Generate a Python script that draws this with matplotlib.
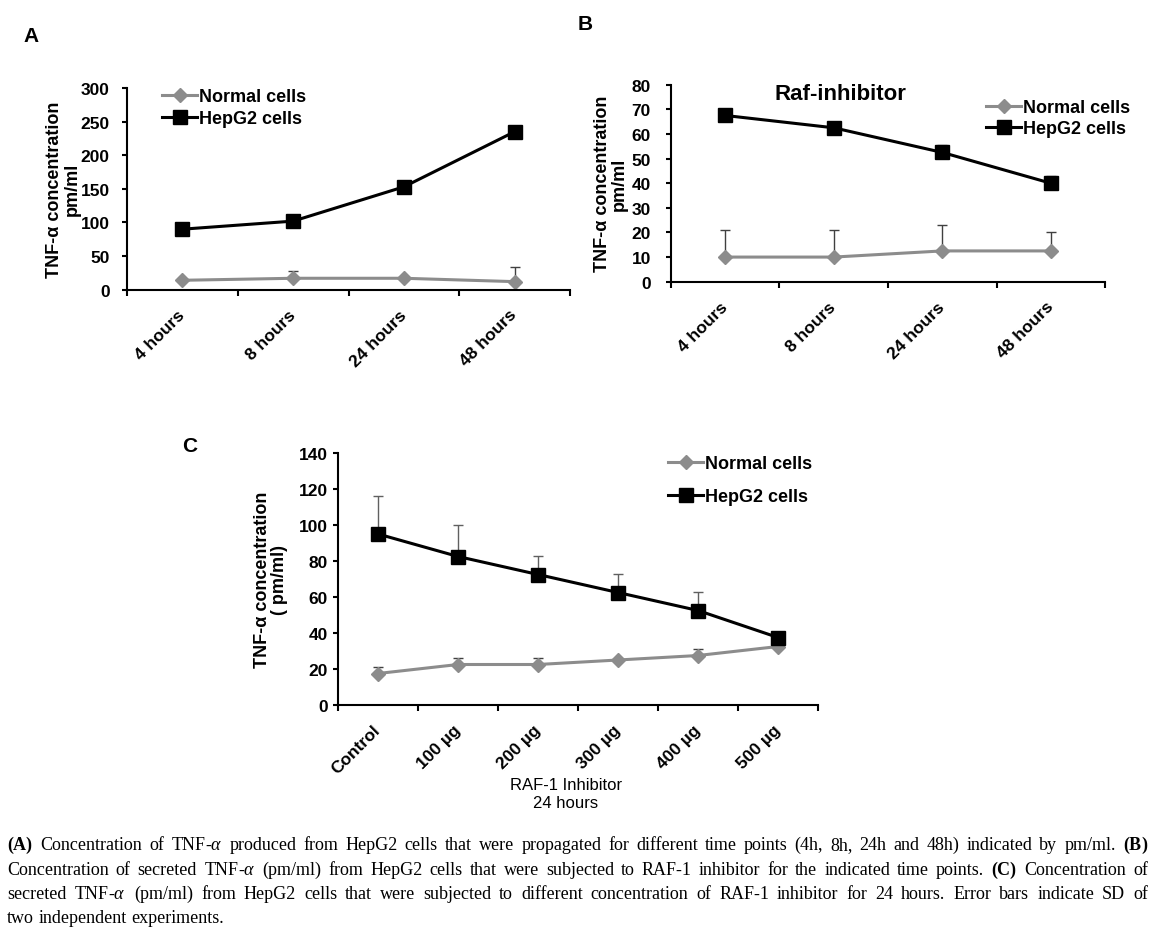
import matplotlib
matplotlib.use("Agg")
import matplotlib.pyplot as plt
import numpy as np

plt.rcParams['font.family'] = ['Liberation Sans', 'DejaVu Sans']
plt.rcParams['mathtext.fontset'] = 'custom'
plt.rcParams['mathtext.rm'] = 'Liberation Serif'
plt.rcParams['mathtext.it'] = 'Liberation Serif:italic'
plt.rcParams['mathtext.bf'] = 'Liberation Serif:bold'

# ---- data ----
hours = ['4 hours', '8 hours', '24 hours', '48 hours']
doses = ['Control', '100 µg', '200 µg', '300 µg', '400 µg', '500 µg']

a_normal = [14, 17, 17, 12]
a_normal_err = [1, 11, 1, 22]
a_hepg2 = [90, 102, 153, 235]
a_hepg2_err = [3, 3, 3, 3]

b_normal = [10, 10, 12.5, 12.5]
b_normal_err = [11, 11, 10.5, 7.5]
b_hepg2 = [67.5, 62.5, 52.5, 40]
b_hepg2_err = [1, 1, 3, 3]

c_normal = [17.5, 22.5, 22.5, 25, 27.5, 32.5]
c_normal_err = [3.5, 3.5, 3.5, 0, 3.5, 0]
c_hepg2 = [95, 82.5, 72.5, 62.5, 52.5, 37.5]
c_hepg2_err = [21, 17.5, 10.5, 10.5, 10.5, 1.5]

caption = [
    r"$\mathbf{(A)}$ Concentration of TNF-$\alpha$ produced from HepG2 cells that were propagated for different time points (4h, 8h, 24h and 48h) indicated by pm/ml. $\mathbf{(B)}$",
    r"Concentration of secreted TNF-$\alpha$ (pm/ml) from HepG2 cells that were subjected to RAF-1 inhibitor for the indicated time points. $\mathbf{(C)}$ Concentration of",
    r"secreted TNF-$\alpha$ (pm/ml) from HepG2 cells that were subjected to different concentration of RAF-1 inhibitor for 24 hours. Error bars indicate SD of",
    r"two independent experiments.",
]

GRAY = '#8c8c8c'
W, H = 1164, 937
fig = plt.figure(figsize=(W / 100, H / 100), dpi=100)


def px_axes(l, t, r, b):
    return fig.add_axes([l / W, 1 - b / H, (r - l) / W, (b - t) / H])


def panel(ax, cats, normal, nerr, hep, herr, ymax, ystep, ylabel, ypad):
    x = np.arange(len(cats))
    ax.errorbar(x, normal, yerr=[np.zeros(len(x)), nerr], fmt='none',
                ecolor='#404040', elinewidth=1, capsize=3.5, capthick=1, zorder=1)
    ax.errorbar(x, hep, yerr=[np.zeros(len(x)), herr], fmt='none',
                ecolor='#606060', elinewidth=1, capsize=3.5, capthick=1, zorder=1)
    ax.plot(x, normal, color=GRAY, lw=2.2, marker='D', ms=7, label='Normal cells', zorder=2)
    ax.plot(x, hep, color='black', lw=2.2, marker='s', ms=9.5, label='HepG2 cells', zorder=3)

    ax.set_xlim(-0.5, len(cats) - 0.5)
    ax.set_ylim(0, ymax)
    ax.set_yticks(np.arange(0, ymax + 1, ystep))
    ax.set_xticks(x)
    ax.set_xticklabels(cats, rotation=45, ha='right', va='center',
                       rotation_mode='anchor', fontsize=12.5, fontweight='bold')
    ax.set_xticks(np.arange(-0.5, len(cats)), minor=True)
    ax.tick_params(axis='x', which='major', length=0, pad=16)
    ax.tick_params(axis='x', which='minor', length=4, width=1.5, direction='out')
    ax.tick_params(axis='y', length=3.5, width=1.5, labelsize=12.5, pad=ypad)
    for lab in ax.get_yticklabels():
        lab.set_fontweight('bold')
    for s in ['top', 'right']:
        ax.spines[s].set_visible(False)
    for s in ['left', 'bottom']:
        ax.spines[s].set_linewidth(1.5)
    ax.set_ylabel(ylabel, fontsize=13, fontweight='bold', linespacing=1.0)


def add_legend(ax, x_px, top_px, spacing):
    ax.legend(loc='upper left', bbox_to_anchor=(x_px / W, 1 - top_px / H),
              bbox_transform=fig.transFigure, frameon=False, borderpad=0,
              borderaxespad=0, handlelength=1.95, handletextpad=0.1,
              labelspacing=spacing, prop={'size': 13, 'weight': 'bold'})


# ---- A ----
axA = px_axes(127, 89, 570, 290.7)
panel(axA, hours, a_normal, a_normal_err, a_hepg2, a_hepg2_err, 300, 50,
      'TNF-α concentration\npm/ml', 9)
axA.yaxis.set_label_coords(-0.105, 0.5)
add_legend(axA, 162, 89, 0.3)

# ---- B ----
axB = px_axes(671, 85.7, 1105, 282.7)
panel(axB, hours, b_normal, b_normal_err, b_hepg2, b_hepg2_err, 80, 10,
      'TNF-α concentration\npm/ml', 11)
axB.yaxis.set_label_coords(-0.099, 0.5)
add_legend(axB, 986, 100, 0.24)
fig.text(840 / W, 1 - 95 / H, 'Raf-inhibitor', fontsize=16, fontweight='bold',
         ha='center', va='center')

# ---- C ----
axC = px_axes(338, 454, 818, 706)
panel(axC, doses, c_normal, c_normal_err, c_hepg2, c_hepg2_err, 140, 20,
      'TNF-α concentration\n( pm/ml)', 4)
axC.yaxis.set_label_coords(-0.104, 0.5)
add_legend(axC, 668, 456, 0.9)
fig.text(566 / W, 1 - 795 / H, 'RAF-1 Inhibitor\n24 hours', fontsize=12,
         ha='center', va='center', linespacing=1.25)

# panel letters
for letter, (px, py) in zip('ABC', [(31, 37), (585, 25), (190, 447)]):
    fig.text(px / W, 1 - py / H, letter, fontsize=15, fontweight='bold', ha='center', va='center')

# ---- caption (justified) ----
renderer = fig.canvas.get_renderer()
x_left, x_right = 7, 1148
baselines = [850, 875, 899, 923]
for i, (line, yb) in enumerate(zip(caption, baselines)):
    words = line.split(' ')
    texts = [fig.text(0, 1 - yb / H, w, fontsize=13, family='Liberation Serif', va='baseline')
             for w in words]
    widths = [t.get_window_extent(renderer).width for t in texts]
    if i < len(caption) - 1:
        gap = (x_right - x_left - sum(widths)) / (len(words) - 1)
    else:
        gap = 4.5
    xpos = x_left
    for t, wd in zip(texts, widths):
        t.set_x(xpos / W)
        xpos += wd + gap

fig.savefig('out.png', dpi=100)
